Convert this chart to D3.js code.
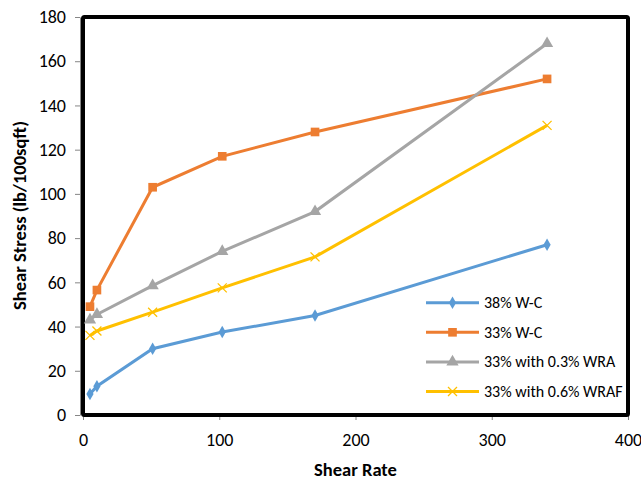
<!DOCTYPE html>
<html>
  <head>
    <meta charset="utf-8">
    <script src="https://d3js.org/d3.v7.min.js"></script>
    <style>
      body { margin: 0; background: white; }
      .tick text { font-family: Carlito, "Liberation Sans", sans-serif; font-size: 18px; fill: #000; }
      .tick line { stroke: #868686; }
      .domain { stroke: #868686; }
    </style>
  </head>
  <body>
    <div id="chart"></div>
    <script>
      // shear rates (1/s) from the 3,6,30,60,100,200 rpm readings
      var shearRate = [5.11, 10.22, 51.1, 102.2, 170.3, 340.6];
      var wc38 = [9.5, 13, 30, 37.5, 45, 77];
      var wc33 = [49, 56.5, 103, 117, 128, 152];
      var wra03 = [43, 45.5, 58.5, 74, 92, 168];
      var wraf06 = [36, 38, 46.5, 57.5, 71.5, 131];
      var seriesNames = ["38% W-C", "33% W-C", "33% with 0.3% WRA", "33% with 0.6% WRAF"];
      var seriesColors = ["#5B9BD5", "#ED7D31", "#A5A5A5", "#FFC000"];
      var xTicks = [0, 100, 200, 300, 400];
      var yTicks = [0, 20, 40, 60, 80, 100, 120, 140, 160, 180];

      var width = 641, height = 480;
      var plotL = 83, plotR = 628, plotT = 17, plotB = 415;

      var svg = d3.select("#chart").append("svg")
          .attr("width", width).attr("height", height);

      var x = d3.scaleLinear().domain([0, 400]).range([plotL, plotR]);
      var y = d3.scaleLinear().domain([0, 180]).range([plotB, plotT]);

      // axes
      svg.append("g")
          .attr("transform", "translate(0," + plotB + ")")
          .call(d3.axisBottom(x).tickValues(xTicks).tickSize(5).tickPadding(13).tickSizeOuter(0));
      svg.append("g")
          .attr("transform", "translate(" + (plotL - 3) + ",0)")
          .call(d3.axisLeft(y).tickValues(yTicks).tickSize(5).tickPadding(9).tickSizeOuter(0));

      // plot frame
      svg.append("rect")
          .attr("x", plotL).attr("y", plotT)
          .attr("width", plotR - plotL).attr("height", plotB - plotT)
          .attr("rx", 1.5)
          .attr("fill", "none").attr("stroke", "#000").attr("stroke-width", 4);

      var data = [wc38, wc33, wra03, wraf06].map(function(vals, i) {
        return { name: seriesNames[i], color: seriesColors[i],
                 pts: vals.map(function(v, j) { return [shearRate[j], v]; }) };
      });

      var line = d3.line().x(function(d) { return x(d[0]); }).y(function(d) { return y(d[1]); });

      var symbols = [d3.symbolDiamond, d3.symbolSquare, d3.symbolTriangle, null];
      var symSizes = [45, 75, 65, 0];

      function marker(g, i, color) {
        if (i == 3) {
          g.append("path").attr("d", "M-4.5,-4.5L4.5,4.5M-4.5,4.5L4.5,-4.5")
              .attr("stroke", color).attr("stroke-width", 1.3).attr("fill", "none");
        } else {
          g.append("path").attr("d", d3.symbol().type(symbols[i]).size(symSizes[i])())
              .attr("fill", color);
        }
      }

      data.forEach(function(s, i) {
        svg.append("path").datum(s.pts).attr("d", line)
            .attr("fill", "none").attr("stroke", s.color).attr("stroke-width", 3);
        s.pts.forEach(function(p) {
          var g = svg.append("g").attr("transform", "translate(" + x(p[0]) + "," + y(p[1]) + ")");
          marker(g, i, s.color);
        });
      });

      // legend
      var legend = svg.append("g");
      data.forEach(function(s, i) {
        var ly = 302.7 + i * 29.6;
        legend.append("line").attr("x1", 426).attr("x2", 479).attr("y1", ly).attr("y2", ly)
            .attr("stroke", s.color).attr("stroke-width", 3);
        var g = legend.append("g").attr("transform", "translate(452.5," + ly + ")");
        marker(g, i, s.color);
        legend.append("text").attr("x", 484).attr("y", ly + 5.5)
            .style("font-family", "Carlito, 'Liberation Sans', sans-serif")
            .style("font-size", "16px")
            .text(s.name);
      });

      // axis titles
      svg.append("text")
          .attr("x", 355.5).attr("y", 476)
          .attr("text-anchor", "middle")
          .style("font-family", "Carlito, 'Liberation Sans', sans-serif")
          .style("font-size", "18.5px").style("font-weight", "bold")
          .text("Shear Rate");
      svg.append("text")
          .attr("transform", "translate(26,215.5) rotate(-90)")
          .attr("text-anchor", "middle")
          .style("font-family", "Carlito, 'Liberation Sans', sans-serif")
          .style("font-size", "18.5px").style("font-weight", "bold")
          .text("Shear Stress (lb/100sqft)");
    </script>
  </body>
</html>
